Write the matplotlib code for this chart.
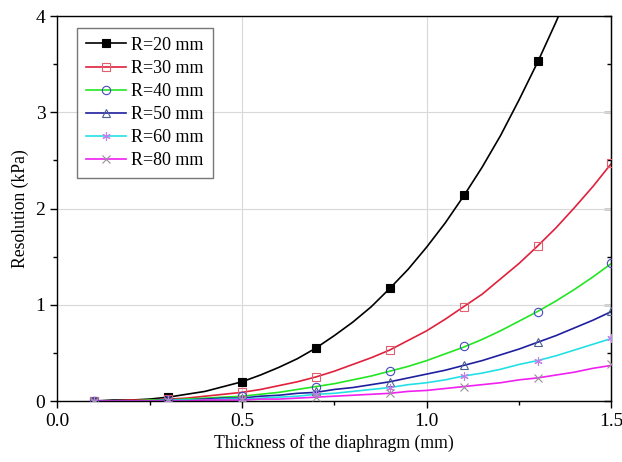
import matplotlib.pyplot as plt

plt.rcParams['font.family'] = ['Liberation Serif', 'DejaVu Serif']

# fitted curves at 0.05 mm steps
t_line = [0.10, 0.15, 0.20, 0.25, 0.30, 0.35, 0.40, 0.45, 0.50, 0.55,
          0.60, 0.65, 0.70, 0.75, 0.80, 0.85, 0.90, 0.95, 1.00, 1.05,
          1.10, 1.15, 1.20, 1.25, 1.30, 1.35, 1.40, 1.45, 1.50]
r20_line = [0.00, 0.01, 0.01, 0.02, 0.04, 0.07, 0.10, 0.15, 0.20, 0.27,
            0.35, 0.44, 0.55, 0.68, 0.82, 0.98, 1.17, 1.37, 1.60, 1.85,
            2.13, 2.43, 2.76, 3.13, 3.52, 3.94, 4.39, 4.88, 5.40]
r30_line = [0.00, 0.00, 0.01, 0.01, 0.02, 0.03, 0.05, 0.07, 0.09, 0.12,
            0.16, 0.20, 0.25, 0.31, 0.38, 0.45, 0.53, 0.63, 0.73, 0.85,
            0.98, 1.11, 1.27, 1.43, 1.61, 1.80, 2.01, 2.23, 2.47]
r40_line = [0.00, 0.00, 0.00, 0.01, 0.01, 0.02, 0.03, 0.04, 0.05, 0.07,
            0.09, 0.12, 0.15, 0.18, 0.22, 0.26, 0.31, 0.36, 0.42, 0.49,
            0.56, 0.64, 0.73, 0.83, 0.93, 1.04, 1.16, 1.29, 1.43]
r50_line = [0.00, 0.00, 0.00, 0.00, 0.01, 0.01, 0.02, 0.03, 0.03, 0.05,
            0.06, 0.08, 0.09, 0.12, 0.14, 0.17, 0.20, 0.24, 0.28, 0.32,
            0.37, 0.42, 0.48, 0.54, 0.61, 0.68, 0.76, 0.84, 0.93]
r60_line = [0.00, 0.00, 0.00, 0.00, 0.01, 0.01, 0.01, 0.02, 0.02, 0.03,
            0.04, 0.05, 0.07, 0.08, 0.10, 0.12, 0.14, 0.17, 0.19, 0.22,
            0.26, 0.29, 0.33, 0.38, 0.42, 0.47, 0.53, 0.59, 0.65]
r80_line = [0.00, 0.00, 0.00, 0.00, 0.00, 0.00, 0.01, 0.01, 0.01, 0.02,
            0.02, 0.03, 0.04, 0.05, 0.06, 0.07, 0.08, 0.10, 0.11, 0.13,
            0.15, 0.17, 0.19, 0.22, 0.24, 0.27, 0.30, 0.34, 0.37]

# measured points
t_pts = [0.1, 0.3, 0.5, 0.7, 0.9, 1.1, 1.3, 1.5]
r20_pts = [0.00, 0.04, 0.20, 0.55, 1.17, 2.14, 3.53, 5.40]
r30_pts = [0.00, 0.02, 0.09, 0.25, 0.53, 0.98, 1.61, 2.47]
r40_pts = [0.00, 0.01, 0.05, 0.15, 0.31, 0.57, 0.93, 1.43]
r50_pts = [0.00, 0.01, 0.03, 0.10, 0.20, 0.37, 0.61, 0.94]
r60_pts = [0.00, 0.01, 0.02, 0.07, 0.14, 0.26, 0.42, 0.66]
r80_pts = [0.00, 0.00, 0.01, 0.04, 0.08, 0.15, 0.24, 0.38]

labels = ['R=20 mm', 'R=30 mm', 'R=40 mm', 'R=50 mm', 'R=60 mm', 'R=80 mm']
lines = [r20_line, r30_line, r40_line, r50_line, r60_line, r80_line]
points = [r20_pts, r30_pts, r40_pts, r50_pts, r60_pts, r80_pts]

line_colors = ['#000000', '#e0203c', '#22e622', '#1f1fa0', '#22e0e6', '#f020f0']
marker_colors = ['#000000', '#e06070', '#4848c0', '#4a6090', '#c080e8', '#9a909a']
markers = ['s', 's', 'o', '^', (6, 2, 0), 'x']

fig = plt.figure(figsize=(6.22, 4.62), dpi=100)
ax = fig.add_axes([0.092, 0.132, 0.891, 0.833])

handles = []
for i in range(len(labels)):
    filled = marker_colors[i] if i == 0 else 'none'
    ax.plot(t_line, lines[i], color=line_colors[i], lw=1.2, zorder=2)
    ax.plot(t_pts, points[i], ls='none', marker=markers[i], ms=6,
            mfc=filled, mec=marker_colors[i], mew=0.8, zorder=3)
    h, = ax.plot([], [], color=line_colors[i], lw=1.2, marker=markers[i], ms=6,
                 mfc=filled, mec=marker_colors[i], mew=0.8)
    handles.append(h)

ax.set_xlim(0, 1.5)
ax.set_ylim(0, 4)
ax.set_xticks([0.0, 0.5, 1.0, 1.5])
ax.set_xticklabels(['0.0', '0.5', '1.0', '1.5'])
ax.set_yticks([0, 1, 2, 3, 4])
ax.set_xticks([0.25, 0.75, 1.25], minor=True)
ax.set_yticks([0.5, 1.5, 2.5, 3.5], minor=True)
ax.grid(True, which='major', color='#d8d8d8', lw=0.8)
ax.set_axisbelow(True)

ax.tick_params(which='major', direction='out', length=5, width=1, labelsize=14)
ax.tick_params(which='minor', direction='out', length=3, width=1)
for spine in ax.spines.values():
    spine.set_linewidth(1.0)

# right-side ticks point inward
sec = ax.secondary_yaxis('right')
sec.set_yticks([0, 1, 2, 3, 4])
sec.set_yticks([0.5, 1.5, 2.5, 3.5], minor=True)
sec.tick_params(which='major', direction='in', length=5, width=1, labelright=False)
sec.tick_params(which='minor', direction='in', length=3, width=1)

ax.set_xlabel('Thickness of the diaphragm (mm)', fontsize=12.7, labelpad=3)
ax.set_ylabel('Resolution (kPa)', fontsize=12.7, labelpad=5)

leg = ax.legend(handles, labels, loc='upper left', bbox_to_anchor=(0.036, 0.97),
                borderaxespad=0, fontsize=13, frameon=True, fancybox=False,
                edgecolor='#555555', handlelength=2.2, borderpad=0.5,
                labelspacing=0.34, handletextpad=0.3)
leg.get_frame().set_linewidth(1.0)

fig.savefig('out.png', dpi=100)
